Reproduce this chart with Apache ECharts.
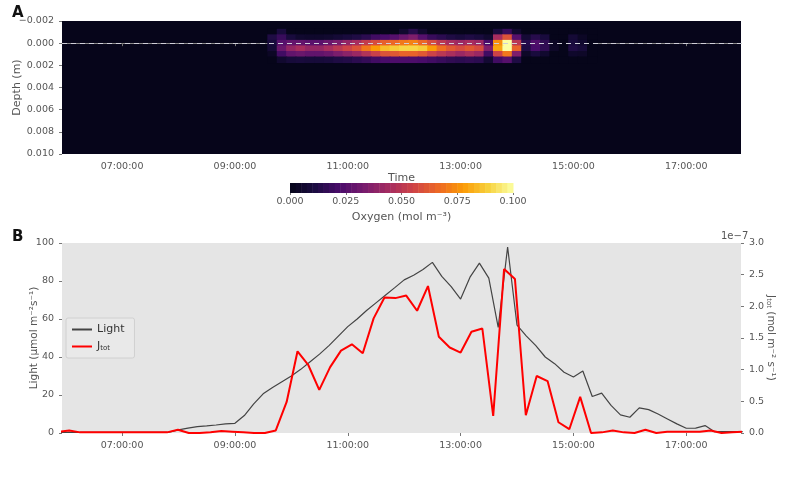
<!DOCTYPE html>
<html>
<head>
<meta charset="utf-8">
<script src="https://cdn.jsdelivr.net/npm/echarts@6/dist/echarts.min.js"></script>
<style>
  html, body { margin: 0; padding: 0; background: #fff; }
  #main { width: 800px; height: 504px; }
</style>
</head>
<body>
<div id="main"></div>
<script>
// ---- data ----
// panel B: light every 10 min starting 05:50
var lightStart = 5 + 50 / 60
var lightValues = [0.3, 0.3, 0.3, 0.3, 0.3, 0.3, 0.3, 0.3, 0.3, 0.3, 0.3, 0.3,
  0.5, 1.6, 2.6, 3.4, 3.7, 4.2, 4.8, 5.1, 9.2, 15.3, 20.6, 24, 27, 30, 33.5, 37.5, 41.5, 46, 51,
  56, 60, 64.5, 68.5, 72.5, 76.5, 80.6, 83, 86, 89.8, 82.4, 77, 70.5, 82, 89.4, 81.5, 55.6, 97.9,
  56.8, 51, 46, 40, 36.5, 32, 29.5, 32.6, 19.2, 21, 14.5, 9.5, 8.3, 13.2, 12.3, 10, 7.4, 4.8,
  2.5, 2.6, 3.9, 0.7, 0.7, 0.7, 0.7]

// J_tot (x 1e-7 mol m-2 s-1), sampled every ~11.6 min from 05:52
var jStart = 5.87
var jStep = 0.1927
var jValues = [0.02, 0.04, 0.01, 0.01, 0.01, 0.01, 0.01, 0.01, 0.01, 0.01, 0.01, 0.05, 0.0, 0.0,
  0.01, 0.03, 0.02, 0.01, 0.0, 0.0, 0.04, 0.49, 1.29, 1.07, 0.68, 1.04, 1.30, 1.40, 1.26, 1.81,
  2.14, 2.13, 2.17, 1.93, 2.32, 1.52, 1.35, 1.27, 1.60, 1.65, 0.27, 2.59, 2.43, 0.28, 0.90, 0.82,
  0.17, 0.06, 0.57, 0.0, 0.01, 0.04, 0.01, 0.0, 0.05, 0.0, 0.02, 0.02, 0.02, 0.02, 0.04, 0.0,
  0.01, 0.02]

// panel A: oxygen, columns every 10 min from 09:40, rows by depth (m)
var heatStart = 9 + 40 / 60
var heatDepths = [-0.001, -0.0005, 0, 0.0005, 0.001, 0.0015]
var heatRows = [
  [0, 0.01, 0, 0, 0, 0, 0, 0, 0, 0, 0, 0, 0, 0, 0.006, 0.014, 0.006, 0, 0, 0, 0, 0, 0, 0, 0.01, 0.018, 0.006, 0, 0, 0, 0, 0, 0, 0, 0],
  [0.012, 0.018, 0.01, 0.006, 0.005, 0.005, 0.006, 0.008, 0.01, 0.012, 0.015, 0.02, 0.022, 0.025, 0.03, 0.035, 0.025, 0.018, 0.015, 0.012, 0.01, 0.012, 0.01, 0.006, 0.045, 0.06, 0.025, 0.008, 0.014, 0.01, 0, 0, 0.008, 0.003, 0],
  [0.01, 0.025, 0.028, 0.028, 0.026, 0.026, 0.03, 0.034, 0.04, 0.045, 0.052, 0.058, 0.064, 0.066, 0.07, 0.072, 0.066, 0.058, 0.05, 0.045, 0.042, 0.045, 0.042, 0.022, 0.075, 0.1, 0.05, 0.014, 0.024, 0.016, 0.003, 0, 0.01, 0.006, 0],
  [0.008, 0.03, 0.04, 0.045, 0.04, 0.04, 0.045, 0.05, 0.055, 0.06, 0.07, 0.078, 0.085, 0.088, 0.09, 0.09, 0.088, 0.078, 0.068, 0.062, 0.058, 0.062, 0.058, 0.035, 0.08, 0.1, 0.065, 0.012, 0.022, 0.016, 0.004, 0, 0.012, 0.009, 0],
  [0.003, 0.02, 0.028, 0.03, 0.028, 0.028, 0.03, 0.034, 0.038, 0.042, 0.048, 0.054, 0.06, 0.062, 0.065, 0.065, 0.062, 0.055, 0.05, 0.046, 0.042, 0.046, 0.042, 0.02, 0.055, 0.07, 0.035, 0.004, 0.01, 0.006, 0, 0, 0.005, 0.004, 0],
  [0, 0.006, 0.009, 0.01, 0.009, 0.009, 0.01, 0.012, 0.013, 0.015, 0.017, 0.02, 0.022, 0.023, 0.023, 0.023, 0.022, 0.02, 0.018, 0.016, 0.015, 0.016, 0.015, 0.007, 0.02, 0.025, 0.012, 0, 0, 0, 0, 0, 0, 0, 0]
]

var hourTicks = [7, 9, 11, 13, 15, 17]
var inferno = ['#06051a', '#1b0c41', '#4a0c6b', '#781c6d', '#a52c60', '#cf4446', '#ed6925', '#fb9b06', '#f7d13d', '#fcffa4']

// ---- build series data ----
var lightData = lightValues.map(function (v, i) { return [lightStart + i / 6, v] })
var jData = jValues.map(function (v, i) { return [jStart + i * jStep, v] })
var heatData = []
heatRows.forEach(function (row, r) {
  row.forEach(function (v, c) {
    heatData.push([heatStart + c / 6, heatDepths[r], v])
  })
})
var barLevels = []
for (var k = 0; k < 40; k++) barLevels.push([k * 0.0025, (k + 1) * 0.0025, (k + 0.5) * 0.0025])

function hh(v) { return (v < 10 ? '0' : '') + v + ':00:00' }

var textCol = '#555'
var xMin = 5.935, xMax = 17.97

var timeAxis = function (grid, name) {
  return {
    type: 'value', gridIndex: grid, min: xMin, max: xMax,
    name: name, nameLocation: 'middle', nameGap: 18,
    nameTextStyle: { color: textCol, fontSize: 11 },
    axisLine: { show: grid === 0, lineStyle: { color: '#888' } },
    splitLine: { show: false },
    axisTick: { length: 3, customValues: hourTicks, lineStyle: { color: '#777' } },
    axisLabel: { customValues: hourTicks, formatter: hh, color: textCol, fontSize: 9.5 }
  }
}

var chart = echarts.init(document.getElementById('main'))
chart.setOption({
  animation: false,
  textStyle: { fontFamily: 'DejaVu Sans' },
  visualMap: {
    show: false, type: 'continuous', min: 0, max: 0.1, dimension: 2,
    seriesIndex: [0, 1], inRange: { color: inferno }
  },
  graphic: [
    { type: 'text', left: 12, top: 6, style: { text: 'A', font: 'bold 15px DejaVu Sans', fill: '#111' } },
    { type: 'text', left: 12, top: 230, style: { text: 'B', font: 'bold 15px DejaVu Sans', fill: '#111' } },
    { type: 'text', left: 721, top: 231, style: { text: '1e\u22127', font: '10px DejaVu Sans', fill: textCol } }
  ],
  grid: [
    { left: 62, right: 59, top: 21, height: 133, show: true, backgroundColor: '#06051a', borderWidth: 0, outerBoundsMode: 'none' },
    { left: 62, right: 59, top: 243, height: 190, show: true, backgroundColor: '#e5e5e5', borderWidth: 0, outerBoundsMode: 'none' },
    { left: 290, width: 223, top: 183, height: 10, outerBoundsMode: 'none' }
  ],
  xAxis: [
    timeAxis(0, 'Time'),
    timeAxis(1, ''),
    {
      type: 'value', gridIndex: 2, min: 0, max: 0.1, interval: 0.025,
      name: 'Oxygen (mol m\u207b\u00b3)', nameLocation: 'middle', nameGap: 19,
      nameTextStyle: { color: textCol, fontSize: 11 },
      axisLine: { show: false }, splitLine: { show: false },
      axisTick: { length: 2, lineStyle: { color: '#777' } },
      axisLabel: { color: textCol, fontSize: 9.5, margin: 4, formatter: function (v) { return v.toFixed(3) } }
    }
  ],
  yAxis: [
    {
      type: 'value', gridIndex: 0, inverse: true, min: -0.002, max: 0.010, interval: 0.002,
      name: 'Depth (m)', nameLocation: 'middle', nameGap: 39, nameMoveOverlap: false,
      nameTextStyle: { color: textCol, fontSize: 11 },
      axisLine: { show: false }, splitLine: { show: false },
      axisTick: { show: true, length: 3, lineStyle: { color: '#777' } },
      axisLabel: { color: textCol, fontSize: 9.5, formatter: function (v) { return v < 0 ? '\u2212' + (-v).toFixed(3) : v.toFixed(3) } }
    },
    {
      type: 'value', gridIndex: 1, min: 0, max: 100, interval: 20,
      name: 'Light (\u03bcmol m\u207b\u00b2s\u207b\u00b9)', nameLocation: 'middle', nameGap: 22, nameMoveOverlap: false,
      nameTextStyle: { color: textCol, fontSize: 10.5 },
      axisLine: { show: false }, splitLine: { show: false },
      axisTick: { show: true, length: 3, lineStyle: { color: '#777' } },
      axisLabel: { color: textCol, fontSize: 9.5 }
    },
    {
      type: 'value', gridIndex: 1, min: 0, max: 3, interval: 0.5, position: 'right',
      name: '{j|J}{s|tot} (mol m\u207b\u00b2 s\u207b\u00b9)', nameLocation: 'middle', nameGap: 24, nameRotate: -90, nameMoveOverlap: false,
      nameTextStyle: { color: textCol, fontSize: 10.5, rich: { j: { fontSize: 10.5, color: textCol }, s: { fontSize: 7, color: textCol, verticalAlign: 'bottom' } } },
      axisLine: { show: false }, splitLine: { show: false },
      axisTick: { show: true, length: 3, lineStyle: { color: '#777' } },
      axisLabel: { color: textCol, fontSize: 9.5, formatter: function (v) { return v.toFixed(1) } }
    },
    { type: 'value', gridIndex: 2, min: 0, max: 1, show: false }
  ],
  legend: {
    left: 66, top: 318, orient: 'vertical', itemGap: 6,
    backgroundColor: '#e9e9e9', borderColor: '#d0d0d0', borderWidth: 1, borderRadius: 2,
    padding: [6, 10, 6, 6], itemWidth: 20, itemHeight: 2, icon: 'rect',
    data: ['Light', 'J_tot'],
    formatter: function (n) { return n === 'J_tot' ? '{j|J}{s|tot}' : n },
    textStyle: { color: '#333', fontSize: 11, rich: { j: { fontSize: 11, color: '#333' }, s: { fontSize: 7, color: '#333', verticalAlign: 'bottom' } } }
  },
  series: [
    {
      type: 'custom', xAxisIndex: 0, yAxisIndex: 0, data: heatData, clip: true,
      renderItem: function (params, api) {
        var p0 = api.coord([api.value(0) - 1 / 12, api.value(1) - 0.00025])
        var p1 = api.coord([api.value(0) + 1 / 12, api.value(1) + 0.00025])
        return {
          type: 'rect',
          shape: { x: p0[0] - 0.5, y: p0[1] - 0.5, width: p1[0] - p0[0] + 1, height: p1[1] - p0[1] + 1 },
          style: { fill: api.visual('color') }
        }
      },
      markLine: {
        silent: true, symbol: 'none', label: { show: false },
        lineStyle: { color: '#cfcfd8', type: [5, 4], width: 1 },
        data: [{ yAxis: 0 }]
      }
    },
    {
      type: 'custom', xAxisIndex: 2, yAxisIndex: 3, data: barLevels,
      renderItem: function (params, api) {
        var p0 = api.coord([api.value(0), 1])
        var p1 = api.coord([api.value(1), 0])
        return {
          type: 'rect',
          shape: { x: p0[0], y: p0[1], width: p1[0] - p0[0] + 0.5, height: p1[1] - p0[1] },
          style: { fill: api.visual('color') }
        }
      }
    },
    {
      name: 'Light', type: 'line', xAxisIndex: 1, yAxisIndex: 1, data: lightData,
      showSymbol: false, clip: true, lineStyle: { color: '#444', width: 1.2 }, itemStyle: { color: '#444' }
    },
    {
      name: 'J_tot', type: 'line', xAxisIndex: 1, yAxisIndex: 2, data: jData,
      showSymbol: false, clip: true, lineStyle: { color: '#ff0000', width: 2 }, itemStyle: { color: '#ff0000' }
    }
  ]
})
</script>
</body>
</html>
